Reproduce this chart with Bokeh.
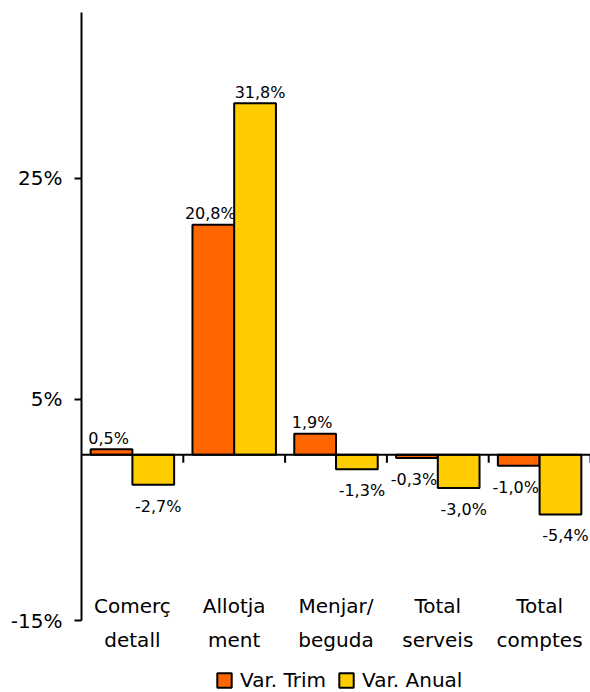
import numpy as np
from bokeh.plotting import figure
from bokeh.models import (Range1d, LinearAxis, FixedTicker, ColumnDataSource,
                          Legend, LegendItem, PrintfTickFormatter, Span)
from bokeh.core.properties import value
from bokeh.embed import file_html
from bokeh.resources import INLINE

categories = ["Comerç\ndetall", "Allotja\nment", "Menjar/\nbeguda", "Total\nserveis", "Total\ncomptes"]
var_trim = [0.5, 20.8, 1.9, -0.3, -1.0]
var_anual = [-2.7, 31.8, -1.3, -3.0, -5.4]
series_names = ["Var. Trim", "Var. Anual"]
y_ticks = [-15, 5, 25]

FONT = "DejaVu Sans"
ORANGE = "#FF6600"
YELLOW = "#FFCC00"

n = len(categories)
centers = np.arange(n) + 0.5
boundaries = list(np.arange(1, n + 1).astype(float))
bw = 0.41

p = figure(width=590, height=692, x_range=Range1d(0, n), y_range=Range1d(-21.5, 40),
           output_backend="svg", toolbar_location=None,
           x_axis_location=None, y_axis_location=None,
           min_border_left=81, min_border_right=0, min_border_top=12, min_border_bottom=0)
p.outline_line_color = None
p.xgrid.grid_line_color = None
p.ygrid.grid_line_color = None

def fmt(v):
    return (f"{v:.1f}%").replace(".", ",")

renderers = []
for vals, color, shift, xoff in [(var_trim, ORANGE, -bw / 2, -3), (var_anual, YELLOW, bw / 2, 5)]:
    src = ColumnDataSource(dict(x=list(centers + shift), top=vals))
    r = p.vbar(x="x", top="top", bottom=0, width=bw, source=src,
               fill_color=color, line_color="black", line_width=2)
    renderers.append(r)
    pos = [(x, v) for x, v in zip(centers + shift, vals) if v >= 0]
    neg = [(x, v) for x, v in zip(centers + shift, vals) if v < 0]
    if pos:
        p.text(x=[a for a, b in pos], y=[b for a, b in pos], text=[fmt(b) for a, b in pos],
               text_align="center", text_baseline="alphabetic", y_offset=-11, x_offset=xoff,
               text_font=value(FONT), text_font_size="16px", text_color="black")
    if neg:
        p.text(x=[a for a, b in neg], y=[b for a, b in neg], text=[fmt(b) for a, b in neg],
               text_align="center", text_baseline="top", y_offset=12, x_offset=xoff,
               text_font=value(FONT), text_font_size="16px", text_color="black")

# zero line with category boundary ticks
p.add_layout(Span(location=0, dimension="width", line_color="black", line_width=2))
p.ray(x=boundaries, y=[0] * len(boundaries), length=8, length_units="screen",
      angle=-np.pi / 2, line_color="black", line_width=2)

# category labels below the plot area
p.text(x=list(centers), y=[y_ticks[0]] * n, text=categories, text_align="center",
       text_baseline="top", y_offset=-27, text_line_height=1.45,
       text_font=value(FONT), text_font_size="20px", text_color="black")

# y axis
yaxis = LinearAxis(ticker=FixedTicker(ticks=y_ticks), formatter=PrintfTickFormatter(format="%d%%"),
                   bounds=(y_ticks[0], 40),
                   major_tick_out=7, major_tick_in=0, minor_tick_line_color=None,
                   axis_line_width=2, major_tick_line_width=2,
                   major_label_text_font=FONT, major_label_text_font_size="20px",
                   major_label_text_color="black", major_label_standoff=12)
p.add_layout(yaxis, "left")

legend = Legend(items=[LegendItem(label=series_names[0], renderers=[renderers[0]]),
                       LegendItem(label=series_names[1], renderers=[renderers[1]])],
                orientation="horizontal", location=(134, 0),
                glyph_width=18, glyph_height=18, label_standoff=7, spacing=11,
                padding=0, margin=0, border_line_color=None, background_fill_alpha=0,
                label_text_font=FONT, label_text_font_size="20px", label_text_color="black")
p.add_layout(legend, "center")

open("out.html", "w").write(file_html(p, INLINE))
